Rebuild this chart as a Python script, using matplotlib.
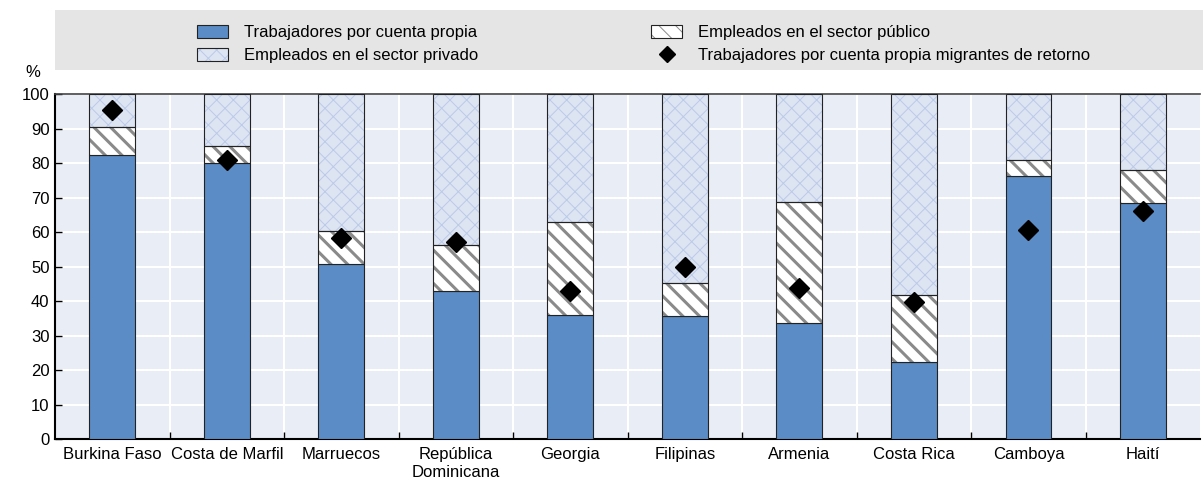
import numpy as np
import matplotlib
matplotlib.use('Agg')
import matplotlib.pyplot as plt
from matplotlib.patches import Rectangle, Patch
from matplotlib.lines import Line2D

countries = ['Burkina Faso', 'Costa de Marfil', 'Marruecos', 'República\nDominicana',
             'Georgia', 'Filipinas', 'Armenia', 'Costa Rica', 'Camboya', 'Haití']
cuenta_propia = [82.4, 80.0, 50.8, 43.0, 35.9, 35.7, 33.5, 22.3, 76.3, 68.3]
sector_publico = [8.2, 4.9, 9.5, 13.2, 27.0, 9.6, 35.2, 19.4, 4.6, 9.7]
retorno = [95.3, 81.0, 58.2, 57.2, 43.0, 49.8, 43.8, 39.8, 60.5, 66.0]

plt.rcParams['font.family'] = ['Liberation Sans Narrow', 'Liberation Sans', 'DejaVu Sans']
plt.rcParams['font.size'] = 12

blue = '#5B8CC6'
bg = '#E9EDF6'
priv_face = '#DDE5F3'
priv_hatch = '#BCCAE8'
pub_hatch = '#8a8a8a'

x = np.arange(len(countries))
prop = np.array(cuenta_propia)
pub = np.array(sector_publico)
priv = 100 - prop - pub
w = 0.4

fig = plt.figure(figsize=(12.03, 4.87), dpi=100)
ax = fig.add_axes([0.0457, 0.0986, 0.952, 0.708])
ax.set_facecolor(bg)

ax.bar(x, prop, w, color=blue, edgecolor='#222222', linewidth=0.8, zorder=3)

# hatch linewidth is picked up when the patch is made
plt.rcParams['hatch.linewidth'] = 2.2
ax.bar(x, pub, w, bottom=prop, facecolor='white', edgecolor=pub_hatch,
       hatch='\\\\', linewidth=0, zorder=3)
ax.bar(x, pub, w, bottom=prop, fill=False, edgecolor='#222222', linewidth=0.8, zorder=4)
pub_handle = Patch(facecolor='white', edgecolor=pub_hatch, hatch='\\\\', linewidth=0)

plt.rcParams['hatch.linewidth'] = 0.7
ax.bar(x, priv, w, bottom=prop + pub, facecolor=priv_face, edgecolor=priv_hatch,
       hatch='xx', linewidth=0, zorder=3)
ax.bar(x, priv, w, bottom=prop + pub, fill=False, edgecolor='#222222', linewidth=0.8, zorder=4)
priv_handle = Patch(facecolor=priv_face, edgecolor=priv_hatch, hatch='xx', linewidth=0)

ax.plot(x, retorno, linestyle='none', marker='D', markersize=10, color='black', zorder=5)

ax.set_xlim(-0.5, len(countries) - 0.5)
ax.set_ylim(0, 100)
ax.set_yticks(np.arange(0, 101, 10))
ax.set_xticks(x)
ax.set_xticklabels(countries)
ax.set_xticks(np.arange(0.5, len(countries) - 0.5, 1), minor=True)
ax.tick_params(axis='x', which='major', length=0, pad=6)
ax.tick_params(axis='x', which='minor', direction='in', length=5, width=1)
ax.tick_params(axis='y', direction='in', length=5, width=1, pad=4)
ax.grid(True, axis='y', color='white', linewidth=1.5, zorder=1)
ax.grid(True, axis='x', which='minor', color='white', linewidth=1.5, zorder=1)
ax.set_axisbelow(True)

for s in ['left', 'bottom']:
    ax.spines[s].set_linewidth(1.5)
    ax.spines[s].set_color('black')
ax.spines['top'].set_color('#444444')
ax.spines['top'].set_linewidth(1.2)
ax.spines['right'].set_visible(False)

fig.text(0.021, 0.835, '%', ha='left', va='bottom', fontsize=12)

fig.patches.append(Rectangle((0.0457, 0.856), 0.9543, 0.124, transform=fig.transFigure,
                             facecolor='#E5E5E5', edgecolor='none', zorder=0))

outline = Patch(fill=False, edgecolor='#222222', linewidth=0.8)
handles = [
    Patch(facecolor=blue, edgecolor='#222222', linewidth=0.8),
    (priv_handle, outline),
    (pub_handle, outline),
    Line2D([], [], linestyle='none', marker='D', markersize=8, color='black'),
]
labels = ['Trabajadores por cuenta propia', 'Empleados en el sector privado',
          'Empleados en el sector público', 'Trabajadores por cuenta propia migrantes de retorno']
fig.legend(handles, labels, ncol=2, loc='center left', bbox_to_anchor=(0.157, 0.91),
           frameon=False, handlelength=1.85, handleheight=0.85, columnspacing=10.4,
           labelspacing=0.45, handletextpad=0.95, borderpad=0)

fig.savefig('out.png', dpi=100)
